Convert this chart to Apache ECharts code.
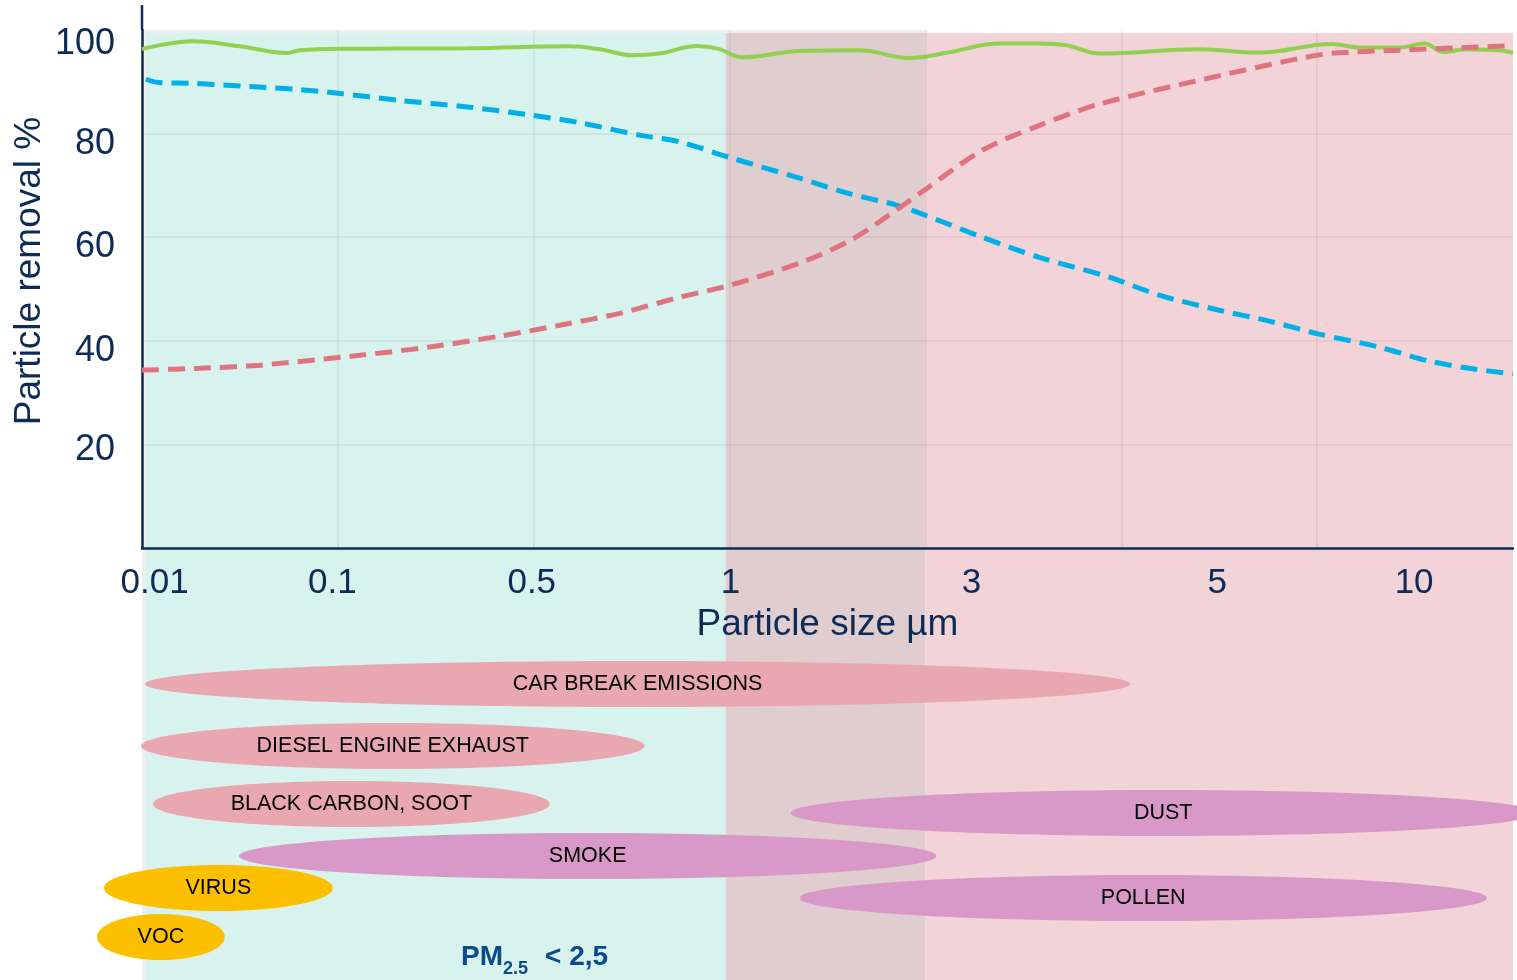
<!DOCTYPE html>
<html>
<head>
<meta charset="utf-8">
<script src="https://cdn.jsdelivr.net/npm/echarts@6/dist/echarts.min.js"></script>
<style>
html,body{margin:0;padding:0;background:#fff;}
#chart{width:1517px;height:980px;}
</style>
</head>
<body>
<div id="chart"></div>
<script>
// ---- data (x in axis position units, y in %) ----
const xTickLabels = ['0.01', '0.1', '0.5', '1', '3', '5', '10'];
const xTickPos = [0.064, 0.972, 1.99, 3.005, 4.235, 5.49, 6.495];
const yTickLabels = ['20', '40', '60', '80', '100'];
const yTickPos = [19.0, 38.0, 58.1, 77.9, 97.3];

const greenX = [0, 0.26, 0.5, 0.74, 0.806, 1.01, 1.316, 1.673, 2.184, 2.337, 2.505, 2.65, 2.832, 2.94, 3.066, 3.357, 3.663, 3.918, 4.12, 4.378, 4.582, 4.719, 4.888, 5.398, 5.704, 6.077, 6.214, 6.418, 6.546, 6.648, 6.75, 6.929, 7.0];
const greenY = [96.33, 97.82, 96.86, 95.56, 96.08, 96.37, 96.41, 96.47, 96.86, 96.28, 95.12, 95.5, 96.91, 96.4, 94.73, 95.95, 96.08, 94.6, 95.7, 97.38, 97.38, 97.05, 95.45, 96.28, 95.64, 97.3, 96.6, 96.6, 97.38, 95.76, 96.22, 96.08, 95.56];

const blueX = [0.02, 0.077, 0.26, 0.551, 0.806, 1.0, 1.316, 1.673, 1.98, 2.235, 2.541, 2.745, 3.0, 3.357, 3.612, 3.852, 3.995, 4.276, 4.582, 4.939, 5.194, 5.5, 5.755, 6.01, 6.316, 6.571, 6.776, 7.0];
const blueY = [90.49, 89.9, 89.7, 89.1, 88.5, 87.8, 86.4, 85.1, 83.6, 82.1, 79.7, 78.4, 75.4, 71.4, 68.4, 66.2, 64.3, 60.2, 56.1, 52.3, 48.8, 45.9, 43.8, 41.3, 38.8, 36.1, 34.7, 33.6];

const redX = [0, 0.296, 0.602, 1.112, 1.469, 1.827, 2.133, 2.439, 2.745, 3.0, 3.357, 3.612, 3.816, 3.995, 4.291, 4.582, 4.888, 5.398, 5.908, 6.077, 6.418, 6.964];
const redY = [34.34, 34.7, 35.3, 37.2, 38.8, 40.9, 43.0, 45.3, 48.4, 50.7, 55.0, 59.3, 64.3, 69.1, 76.8, 81.6, 85.7, 90.3, 94.5, 95.5, 96.1, 96.9];

// background zones
const zoneFrom = [0, 0.02, 2.98, 4.0];
const zoneTo = [4.01, 2.98, 4.0, 7.0];
const zoneTop = [100, 99.4, 99.4, 99.4];
const zoneKind = ['frame', 'pm25', 'overlap', 'coarse'];

// particle source ranges
const srcNames = ['CAR BREAK EMISSIONS', 'DIESEL ENGINE EXHAUST', 'BLACK CARBON, SOOT', 'DUST', 'SMOKE', 'VIRUS', 'POLLEN', 'VOC'];
const srcFrom = [0.015, -0.005, 0.056, 3.311, 0.495, -0.194, 3.357, -0.230];
const srcTo = [5.046, 2.566, 2.082, 7.117, 4.056, 0.974, 6.867, 0.423];
const srcRow = [136, 198, 256, 265, 308, 340, 350, 389];
const srcKind = ['combustion', 'combustion', 'combustion', 'natural', 'natural', 'micro', 'natural', 'micro'];

// ---- styles ----
const FONT = "'Liberation Sans', Arial, sans-serif";
const NAVY = '#0c2c57';
const zoneColors = { frame: '#eeeeee', pm25: '#d8f2ee', overlap: '#e0cdd0', coarse: '#f2d3d8' };
const srcColors = { combustion: '#e9a8b1', natural: '#d899c9', micro: '#fdc000' };

const zip = (xs, ys) => xs.map((x, i) => [x, ys[i]]);

const chart = echarts.init(document.getElementById('chart'), null, { renderer: 'canvas' });

const option = {
  animation: false,
  backgroundColor: '#ffffff',
  grid: [
    { left: 142, right: 4, top: 30, bottom: 432 },
    { left: 142, right: 4, top: 548, bottom: 0 }
  ],
  xAxis: [
    {
      type: 'value', gridIndex: 0, min: 0, max: 7, interval: 1,
      axisLine: { show: true, lineStyle: { color: NAVY, width: 2.5 } },
      axisTick: { show: false },
      splitLine: { show: true, showMinLine: false, showMaxLine: false, lineStyle: { color: 'rgba(0,0,0,0.05)', width: 2 } },
      axisLabel: {
        customValues: xTickPos,
        formatter: v => { const i = xTickPos.findIndex(p => Math.abs(p - v) < 1e-6); return i >= 0 ? xTickLabels[i] : ''; },
        fontSize: 35, color: NAVY, fontFamily: FONT, margin: 18
      },
      name: 'Particle size µm', nameLocation: 'middle', nameGap: 58,
      nameTextStyle: { fontSize: 37, color: NAVY, fontFamily: FONT }
    },
    { type: 'value', gridIndex: 1, min: 0, max: 7, show: false }
  ],
  yAxis: [
    {
      type: 'value', gridIndex: 0, min: 0, max: 100, interval: 20,
      axisLine: { show: true, symbol: ['none', 'rect'], symbolSize: [2.5, 25], symbolOffset: [0, 12.4], lineStyle: { color: NAVY, width: 2.5 } },
      axisTick: { show: false },
      splitLine: { show: true, showMinLine: false, showMaxLine: false, lineStyle: { color: 'rgba(0,0,0,0.05)', width: 2 } },
      axisLabel: {
        customValues: yTickPos,
        formatter: v => { const i = yTickPos.findIndex(p => Math.abs(p - v) < 1e-6); return i >= 0 ? yTickLabels[i] : ''; },
        fontSize: 36, color: NAVY, fontFamily: FONT, margin: 27
      },
      name: 'Particle removal %', nameLocation: 'middle', nameGap: 94, nameRotate: 90, nameMoveOverlap: false,
      nameTextStyle: { fontSize: 37, color: NAVY, fontFamily: FONT, padding: [0, 0, 0, 36] }
    },
    { type: 'value', gridIndex: 1, min: 0, max: 432, inverse: true, show: false }
  ],
  graphic: [
    { type: 'text', left: 461, top: 943, z: 100, style: { text: 'PM', fill: '#0b4a8b', font: "bold 28px 'Liberation Sans', Arial, sans-serif" } },
    { type: 'text', left: 503, top: 960, z: 100, style: { text: '2.5', fill: '#0b4a8b', font: "bold 18px 'Liberation Sans', Arial, sans-serif" } },
    { type: 'text', left: 545, top: 943, z: 100, style: { text: '< 2,5', fill: '#0b4a8b', font: "bold 28px 'Liberation Sans', Arial, sans-serif" } }
  ],
  series: [
    {
      type: 'custom', name: 'zones', xAxisIndex: 0, yAxisIndex: 0, z: -1, silent: true, clip: false,
      data: zoneFrom.map((f, i) => [f, zoneTo[i], zoneTop[i], i]),
      renderItem: (params, api) => {
        const x0 = api.coord([api.value(0), 0])[0];
        const x1 = api.coord([api.value(1), 0])[0];
        const yTop = api.coord([0, api.value(2)])[1];
        const kind = zoneKind[api.value(3)];
        return { type: 'rect', shape: { x: x0, y: yTop, width: x1 - x0, height: api.getHeight() - yTop }, style: { fill: zoneColors[kind] } };
      }
    },
    {
      type: 'line', name: 'Green', xAxisIndex: 0, yAxisIndex: 0, data: zip(greenX, greenY),
      smooth: 0.4, showSymbol: false, clip: false, lineStyle: { color: '#92d050', width: 4 }, z: 3
    },
    {
      type: 'line', name: 'Blue', xAxisIndex: 0, yAxisIndex: 0, data: zip(blueX, blueY),
      smooth: 0.3, showSymbol: false, lineStyle: { color: '#00b0e6', width: 5, type: [17, 9] }, z: 4
    },
    {
      type: 'line', name: 'Red', xAxisIndex: 0, yAxisIndex: 0, data: zip(redX, redY),
      smooth: 0.3, showSymbol: false, lineStyle: { color: '#df7380', width: 5, type: [17, 9] }, z: 5
    },
    {
      type: 'custom', name: 'sources', xAxisIndex: 1, yAxisIndex: 1, clip: false, z: 6,
      data: srcNames.map((n, i) => [srcFrom[i], srcTo[i], srcRow[i], i]),
      renderItem: (params, api) => {
        const p0 = api.coord([api.value(0), api.value(2)]);
        const p1 = api.coord([api.value(1), api.value(2)]);
        const i = api.value(3);
        const cx = (p0[0] + p1[0]) / 2, cy = p0[1];
        return {
          type: 'group',
          children: [
            { type: 'ellipse', shape: { cx: cx, cy: cy, rx: (p1[0] - p0[0]) / 2, ry: 23 }, style: { fill: srcColors[srcKind[i]] } },
            { type: 'text', style: { x: cx, y: cy, text: srcNames[i], fill: '#000', font: "21.5px 'Liberation Sans', Arial, sans-serif", align: 'center', verticalAlign: 'middle' } }
          ]
        };
      }
    }
  ]
};
chart.setOption(option);
</script>
</body>
</html>
